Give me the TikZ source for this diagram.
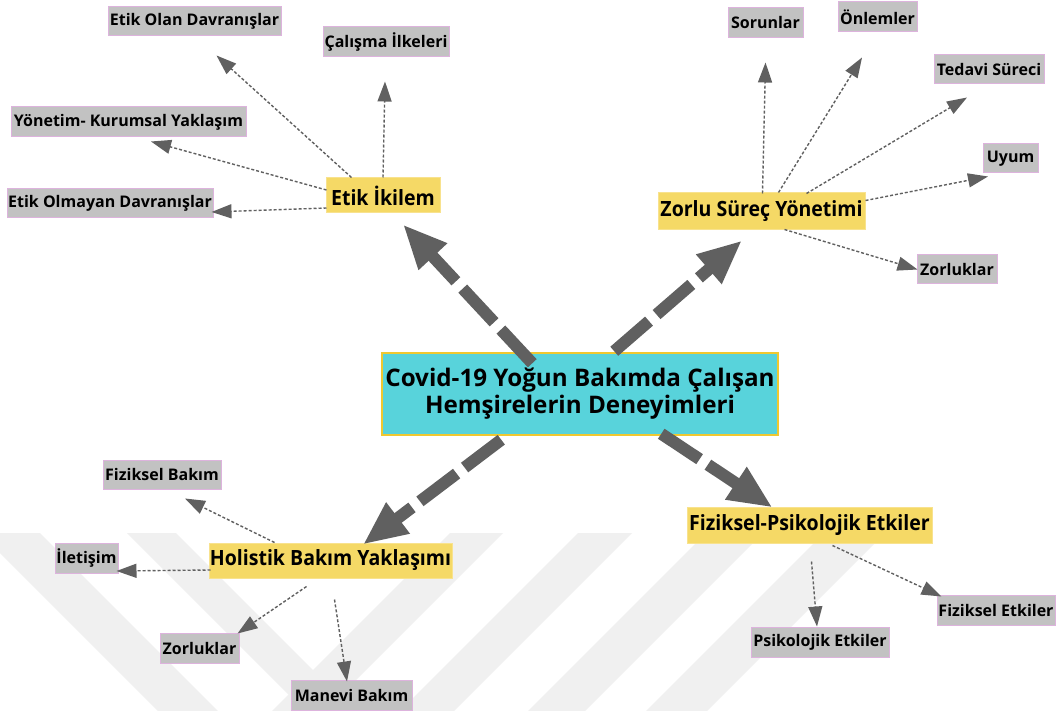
\documentclass[tikz,border=0pt]{standalone}
\usepackage{fontspec}
\newfontfamily\labelfont{Open Sans}
\newfontfamily\themefont{Open Sans}[FakeStretch=0.93]
\usetikzlibrary{arrows.meta}

\definecolor{leaffill}{HTML}{C2C2C2}
\definecolor{leafline}{HTML}{DDB3DD}
\definecolor{themefill}{HTML}{F5D966}
\definecolor{themeline}{HTML}{F8E28E}
\definecolor{corefill}{HTML}{58D3DB}
\definecolor{coreline}{HTML}{F0C830}
\definecolor{arrowgray}{HTML}{606060}
\definecolor{markgray}{HTML}{F0F0F0}

\tikzset{
  box/.style={inner sep=0pt, line width=1pt, text=black},
  leaf/.style={box, draw=leafline, fill=leaffill,
    font=\labelfont\bfseries\fontsize{16}{19}\selectfont},
  theme/.style={box, draw=themeline, fill=themefill,
    font=\themefont\bfseries\fontsize{21}{25}\selectfont},
  core/.style={box, draw=coreline, fill=corefill, line width=1.5pt, align=center,
    font=\labelfont\bfseries\fontsize{24.2}{27}\selectfont},
  link/.style={draw=arrowgray, line width=1.4pt, dash pattern=on 3pt off 2pt,
    -{Triangle[length=20pt,width=14pt]}},
  bigarrow/.style={draw=arrowgray, line width=12pt, dash pattern=on 46pt off 10pt,
    -{Triangle[length=44pt,width=36pt]}},
  wmark/.style={fill=markgray, draw=none}
}

\begin{document}
\begin{tikzpicture}[x=1pt,y=-1pt]
\useasboundingbox (0,0) rectangle (1057,711);
\fill[white] (0,0) rectangle (1057,711);

% faint chevron stripes in the lower half
\begin{scope}
\clip (0,0) rectangle (1057,711);
\path[wmark] (-20,533) -- (40,533) -- (218,711) -- (158,711) -- cycle;
\path[wmark] (127,533) -- (176,533) -- (354,711) -- (305,711) -- cycle;
\path[wmark] (450,533) -- (503,533) -- (325,711) -- (272,711) -- cycle;
\path[wmark] (578,533) -- (632,533) -- (454,711) -- (400,711) -- cycle;
\path[wmark] (706,533) -- (763,533) -- (585,711) -- (528,711) -- cycle;
\path[wmark] (824,533) -- (885,533) -- (707,711) -- (646,711) -- cycle;
\end{scope}

% central topic
\node[core, minimum width=396pt, minimum height=82pt] (core) at (580,394)
  {Covid-19 Yoğun Bakımda Çalışan\\Hemşirelerin Deneyimleri};

% main themes
\node[theme, minimum width=114pt, minimum height=35pt] (etik) at (383,195.5) {Etik İkilem};
\node[theme, minimum width=207pt, minimum height=37pt] (zorlu) at (761.5,211.5) {Zorlu Süreç Yönetimi};
\node[theme, minimum width=243pt, minimum height=35pt] (holistik) at (330.5,560.5) {Holistik Bakım Yaklaşımı};
\node[theme, minimum width=245pt, minimum height=36pt] (fizpsi) at (809.5,525) {Fiziksel-Psikolojik Etkiler};

% sub-themes
\node[leaf, minimum width=173pt, minimum height=29pt] (etikolan) at (194.5,21.5) {Etik Olan Davranışlar};
\node[leaf, minimum width=126pt, minimum height=30pt] (calisma) at (386,42) {Çalışma İlkeleri};
\node[leaf, minimum width=235pt, minimum height=30pt] (yonetim) at (128.5,122) {Yönetim- Kurumsal Yaklaşım};
\node[leaf, minimum width=206pt, minimum height=29pt] (etikolmayan) at (110,203.5) {Etik Olmayan Davranışlar};

\node[leaf, minimum width=75pt, minimum height=30pt] (sorunlar) at (765.5,23) {Sorunlar};
\node[leaf, minimum width=79pt, minimum height=30pt] (onlemler) at (877.5,17) {Önlemler};
\node[leaf, minimum width=110pt, minimum height=29pt] (tedavi) at (989,69.5) {Tedavi Süreci};
\node[leaf, minimum width=55pt, minimum height=29pt] (uyum) at (1010.5,158.5) {Uyum};
\node[leaf, minimum width=80pt, minimum height=29pt] (zorluktr) at (957,269.5) {Zorluklar};

\node[leaf, minimum width=118pt, minimum height=29pt] (fizbakim) at (162,474.5) {Fiziksel Bakım};
\node[leaf, minimum width=63pt, minimum height=30pt] (iletisim) at (86.5,558) {İletişim};
\node[leaf, minimum width=79pt, minimum height=30pt] (zorlukbl) at (199.5,648) {Zorluklar};
\node[leaf, minimum width=121pt, minimum height=30pt] (manevi) at (351.5,695) {Manevi Bakım};

\node[leaf, minimum width=138pt, minimum height=30pt] (psikolojik) at (820,642) {Psikolojik Etkiler};
\node[leaf, minimum width=118pt, minimum height=30pt] (fizetki) at (996,610) {Fiziksel Etkiler};

% links from the central topic to the themes
\draw[bigarrow] ([xshift=151pt,yshift=-11pt]core.north west) -- ([xshift=20pt,yshift=-11pt]etik.south);
\draw[bigarrow] ([xshift=233pt,yshift=1pt]core.north west) -- ([xshift=-19.5pt,yshift=-10pt]zorlu.south);
\draw[bigarrow] ([xshift=120pt,yshift=-4pt]core.south west) -- ([xshift=32.5pt,yshift=-2pt]holistik.north);
\draw[bigarrow] ([xshift=280pt,yshift=2pt]core.south west) -- ([xshift=86pt,yshift=-1pt]fizpsi.north west);

% Etik İkilem
\draw[link] ([xshift=26pt]etik.north west) -- ([xshift=109pt,yshift=-19pt]etikolan.south west);
\draw[link] (etik.north) -- ([xshift=-1pt,yshift=-24pt]calisma.south);
\draw[link] ([xshift=1pt,yshift=5.5pt]etik.west) -- ([xshift=22.5pt,yshift=-4pt]yonetim.south);
\draw[link] ([xshift=1pt,yshift=-12.5pt]etik.west) -- ([xshift=-2pt,yshift=-8.5pt]etikolmayan.east);

% Zorlu Süreç Yönetimi
\draw[link] ([xshift=105pt,yshift=-1pt]zorlu.north west) -- ([yshift=-24pt]sorunlar.south);
\draw[link] ([xshift=121pt]zorlu.north west) -- ([xshift=-15.5pt,yshift=-25pt]onlemler.south);
\draw[link] ([xshift=149pt,yshift=-1pt]zorlu.north west) -- ([xshift=-22pt,yshift=-13pt]tedavi.south);
\draw[link] ([yshift=-8pt]zorlu.north east) -- ([xshift=-22.5pt,yshift=-3pt]uyum.south);
\draw[link] ([xshift=127pt,yshift=1pt]zorlu.south west) -- ([xshift=1pt]zorluktr.west);

% Holistik Bakım Yaklaşımı
\draw[link] ([xshift=66pt]holistik.north west) -- ([xshift=23pt,yshift=-9pt]fizbakim.south);
\draw[link] ([xshift=2pt,yshift=-9.5pt]holistik.west) -- ([xshift=-2pt,yshift=-13pt]iletisim.east);
\draw[link] ([xshift=98pt,yshift=-8pt]holistik.south west) -- ([xshift=-2pt,yshift=-1pt]zorlukbl.north east);
\draw[link] ([xshift=126pt,yshift=-21pt]holistik.south west) -- ([xshift=-4.5pt,yshift=-2pt]manevi.north);

% Fiziksel-Psikolojik Etkiler
\draw[link] ([xshift=125pt,yshift=-18pt]fizpsi.south west) -- ([xshift=-3pt]psikolojik.north);
\draw[link] ([xshift=146pt,yshift=-2pt]fizpsi.south west) -- ([xshift=5pt,yshift=-2pt]fizetki.north west);
\end{tikzpicture}
\end{document}
